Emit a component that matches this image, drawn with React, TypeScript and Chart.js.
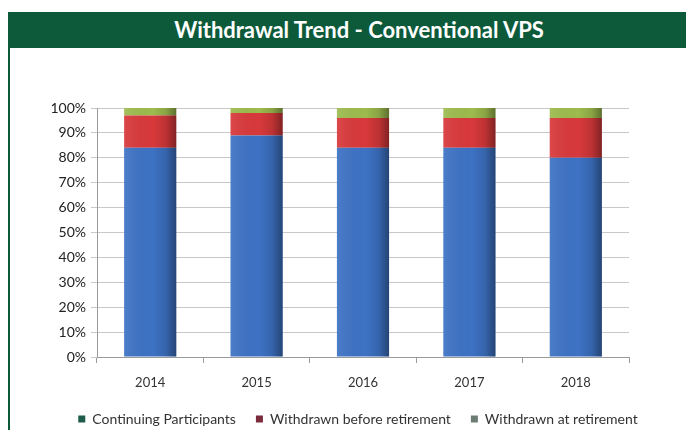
import React, { useEffect, useRef } from "react";
import { Chart, registerables } from "chart.js";

Chart.register(...registerables);

const categories = ["2014", "2015", "2016", "2017", "2018"];
const continuing = [84, 89, 84, 84, 80];
const beforeRetirement = [13, 9, 12, 12, 16];
const atRetirement = [3, 2, 4, 4, 4];
const seriesNames = ["Continuing Participants", "Withdrawn before retirement", "Withdrawn at retirement"];
const barColors = ["#3d72c4", "#d8393b", "#9dbb4e"];
const legendColors = ["#1f5b4b", "#7a2b3c", "#6b7d72"];

const shadePlugin = {
  id: "shade",
  afterDatasetsDraw(chart: any) {
    const ctx = chart.ctx;
    chart.data.datasets.forEach((_: any, di: number) => {
      const meta = chart.getDatasetMeta(di);
      meta.data.forEach((el: any) => {
        const left = el.x - el.width / 2;
        const right = el.x + el.width / 2;
        const top = Math.min(el.y, el.base);
        const h = Math.abs(el.base - el.y);
        const g = ctx.createLinearGradient(left, 0, right, 0);
        g.addColorStop(0, "rgba(255,255,255,0.08)");
        g.addColorStop(0.55, "rgba(0,0,0,0)");
        g.addColorStop(0.8, "rgba(0,0,0,0.12)");
        g.addColorStop(1, "rgba(0,0,0,0.4)");
        ctx.save();
        ctx.fillStyle = g;
        ctx.fillRect(left, top, right - left, h);
        ctx.restore();
      });
    });
  },
};

export default function App() {
  const ref = useRef<HTMLCanvasElement | null>(null);
  useEffect(() => {
    if (!ref.current) return;
    const chart = new Chart(ref.current, {
      type: "bar",
      data: {
        labels: categories,
        datasets: [
          { label: seriesNames[0], data: continuing, backgroundColor: barColors[0] },
          { label: seriesNames[1], data: beforeRetirement, backgroundColor: barColors[1] },
          { label: seriesNames[2], data: atRetirement, backgroundColor: barColors[2] },
        ],
      },
      plugins: [shadePlugin],
      options: {
        animation: false,
        responsive: false,
        maintainAspectRatio: false,
        layout: { padding: { top: 60, right: 0, left: 12, bottom: 0 } },
        datasets: { bar: { barPercentage: 0.98, categoryPercentage: 0.5 } },
        plugins: {
          title: { display: false },
          tooltip: { enabled: false },
          legend: {
            position: "bottom",
            labels: {
              font: { family: "Lato", size: 14 },
              color: "#333333",
              boxWidth: 7,
              boxHeight: 7,
              padding: 20,
              generateLabels: (c: any) =>
                c.data.datasets.map((d: any, i: number) => ({
                  text: d.label,
                  fillStyle: legendColors[i],
                  strokeStyle: legendColors[i],
                  lineWidth: 0,
                  fontColor: "#333333",
                  datasetIndex: i,
                  hidden: false,
                })),
            },
          },
        },
        scales: {
          x: {
            stacked: true,
            grid: { display: true, drawOnChartArea: false, drawTicks: true, tickLength: 6, color: "#9a9a9a" },
            border: { color: "#9a9a9a" },
            ticks: { font: { family: "Lato", size: 13 }, color: "#333333", padding: 12 },
            afterFit: (s: any) => { s.width = s.width; s.height = 35; },
          },
          y: {
            stacked: true,
            min: 0,
            max: 100,
            grid: { color: "#c8c8c8", tickLength: 6, drawTicks: true },
            border: { color: "#9a9a9a" },
            ticks: {
              stepSize: 10,
              font: { family: "Lato", size: 14 },
              color: "#222222",
              padding: 5,
              callback: (v: any) => v + "%",
            },
            afterFit: (s: any) => { s.width = 75; },
          },
          y2: {
            position: "right",
            display: true,
            min: 0,
            max: 100,
            grid: { display: false, drawOnChartArea: false },
            border: { display: false },
            ticks: { display: false },
            afterFit: (s: any) => { s.width = 65; },
          },
        },
      },
    });
    return () => chart.destroy();
  }, []);

  return (
    <div style={{ width: 686, height: 422, position: "relative", background: "#ffffff", overflow: "hidden" }}>
      <div
        style={{
          marginTop: 4,
          height: 36,
          background: "#0d5a3b",
          color: "#ffffff",
          fontFamily: "Lato, 'Open Sans', sans-serif",
          fontWeight: 700,
          fontSize: 22,
          lineHeight: "36px",
          textAlign: "center",
          paddingLeft: 16,
          boxSizing: "border-box",
        }}
      >
        Withdrawal Trend - Conventional VPS
      </div>
      <div
        style={{
          height: 382,
          borderLeft: "2px solid #0d5a3b",
          boxSizing: "border-box",
          position: "relative",
          overflow: "hidden",
        }}
      >
        <canvas ref={ref} width={684} height={388} style={{ display: "block" }} />
      </div>
    </div>
  );
}
